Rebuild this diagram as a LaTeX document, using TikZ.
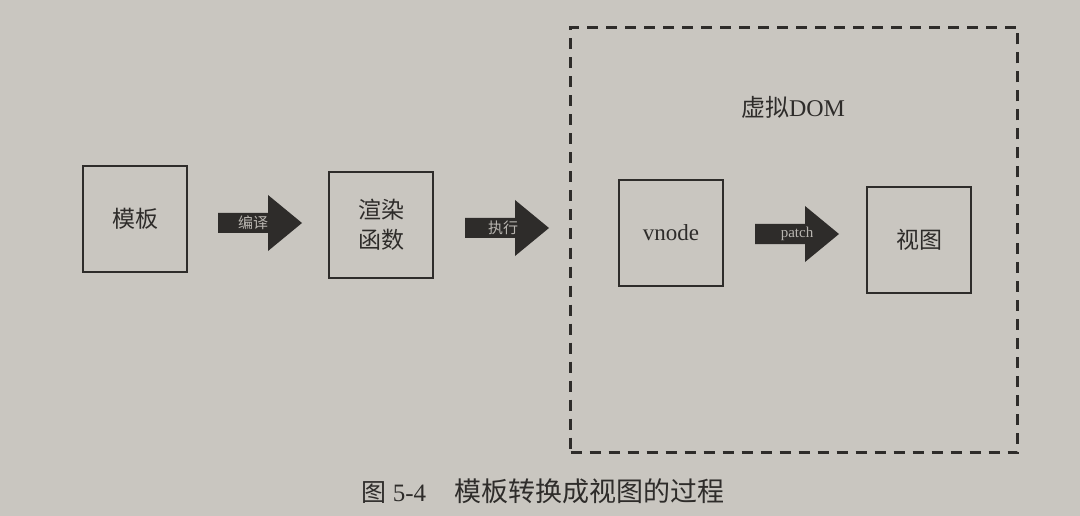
\documentclass[tikz,border=0pt]{standalone}
\usepackage{fontspec}
\usetikzlibrary{calc}
\setmainfont{Liberation Serif}
\newfontfamily\cjk{Noto Sans CJK SC}
\definecolor{paper}{HTML}{C9C6C0}
\definecolor{ink}{HTML}{2E2C2A}
\definecolor{arrowtext}{HTML}{B8B5B0}
\begin{document}
\begin{tikzpicture}[x=1pt,y=-1pt,
  boxnode/.style={draw=ink,line width=2pt,minimum width=104pt,minimum height=106pt,inner sep=0pt,font=\fontsize{23}{26}\selectfont\cjk,text=ink},
  arrowlabel/.style={font=\fontsize{15}{17}\selectfont,text=arrowtext,inner sep=0pt},
  arrowfill/.style={fill=ink}]
\fill[paper] (0,0) rectangle (1080,516);
\useasboundingbox (0,0) rectangle (1080,516);
% dashed frame
\node[draw=ink,line width=3pt,dash pattern=on 11pt off 8pt,minimum width=447pt,minimum height=425pt,inner sep=0pt] (frame) at (794,240) {};
\node[font=\fontsize{24}{26}\selectfont,text=ink] (vdom) at (793,107) {{\cjk 虚拟}DOM};
% boxes
\node[boxnode] (tpl) at (135,219) {模板};
\node[boxnode,align=center,font=\fontsize{23}{30}\selectfont\cjk] (render) at (381,225) {渲染\\函数};
\node[boxnode,font=\fontsize{23}{26}\selectfont] (vnode) at (671,233) {vnode};
\node[boxnode] (view) at (919,240) {视图};
% arrows
\coordinate (a1) at (218,223);
\coordinate (a2) at (465,228);
\coordinate (a3) at (755,234);
\foreach \c in {a1,a2,a3}{
  \fill[arrowfill] ($(\c)+(0,-10)$) -- ++(50,0) -- ++(0,-18) -- ++(34,28) -- ++(-34,28) -- ++(0,-18) -- ++(-50,0) -- cycle;
}
\node[arrowlabel,font=\fontsize{15}{17}\selectfont\cjk] (l1) at (253,223) {编译};
\node[arrowlabel,font=\fontsize{15}{17}\selectfont\cjk] (l2) at (503,228) {执行};
\node[arrowlabel] (l3) at (797,234) {patch};
% caption
\node[font=\fontsize{25}{28}\selectfont,text=ink,anchor=west] (cap) at (358,491) {{\cjk 图} 5-4\hspace{28pt}{\fontsize{27}{30}\selectfont\cjk 模板转换成视图的过程}};
\end{tikzpicture}
\end{document}
